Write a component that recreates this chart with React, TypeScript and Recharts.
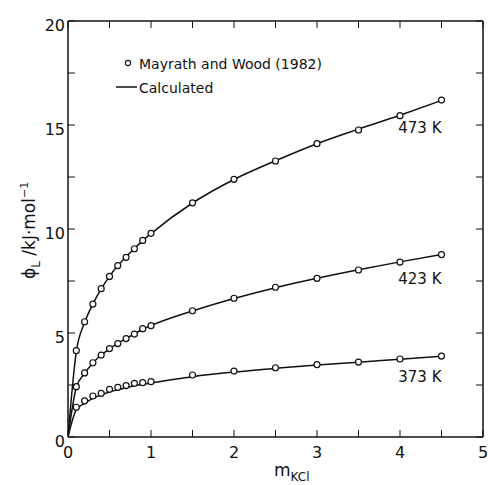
import React from 'react';
import {
  ComposedChart,
  Line,
  Scatter,
  XAxis,
  YAxis,
  Legend,
} from 'recharts';

// molality of KCl (mol/kg)
const molality = [0.1, 0.2, 0.3, 0.4, 0.5, 0.6, 0.7, 0.8, 0.9, 1.0, 1.5, 2.0, 2.5, 3.0, 3.5, 4.0, 4.5];

// Mayrath and Wood (1982), phi_L in kJ/mol
const measured473 = [4.15, 5.54, 6.39, 7.13, 7.72, 8.24, 8.64, 9.05, 9.45, 9.79, 11.26, 12.39, 13.27, 14.1, 14.76, 15.45, 16.2];
const measured423 = [2.42, 3.08, 3.57, 3.94, 4.25, 4.49, 4.73, 4.95, 5.21, 5.35, 6.07, 6.67, 7.2, 7.63, 8.03, 8.41, 8.77];
const measured373 = [1.43, 1.74, 1.97, 2.1, 2.29, 2.39, 2.47, 2.58, 2.61, 2.66, 2.98, 3.17, 3.33, 3.48, 3.6, 3.75, 3.89];

// calculated curves, starting at the origin
const calcM = [0, ...molality];
const calc473 = [0, 4.1, 5.5, 6.4, 7.12, 7.72, 8.24, 8.66, 9.06, 9.44, 9.78, 11.25, 12.38, 13.28, 14.1, 14.8, 15.47, 16.18];
const calc423 = [0, 2.38, 3.06, 3.56, 3.94, 4.24, 4.5, 4.73, 4.96, 5.18, 5.36, 6.06, 6.66, 7.18, 7.63, 8.04, 8.42, 8.77];
const calc373 = [0, 1.3, 1.62, 1.86, 2.02, 2.16, 2.27, 2.37, 2.46, 2.53, 2.6, 2.9, 3.12, 3.3, 3.46, 3.59, 3.74, 3.88];

const tempLabels = ['473 K', '423 K', '373 K'];

const xTicks = [0, 0.5, 1, 1.5, 2, 2.5, 3, 3.5, 4, 4.5, 5];
const yTicks = [0, 2.5, 5, 7.5, 10, 12.5, 15, 17.5, 20];

const FONT = '"DejaVu Sans", sans-serif';
const INK = '#111';

// layout
const W = 488;
const H = 485;
const MARGIN = { top: 21, right: 5, bottom: 0, left: 0 };
const Y_AXIS_W = 68;
const X_AXIS_H = 48;
const PLOT_W = W - MARGIN.left - MARGIN.right - Y_AXIS_W;
const PLOT_H = H - MARGIN.top - MARGIN.bottom - X_AXIS_H;
const TICK = 7;
const X_GAP = 10;
const Y_GAP = 3;

const toPoints = (xs: number[], ys: number[]) => xs.map((x, i) => ({ x, y: ys[i] }));

const series = [
  { measured: measured473, calc: calc473, label: tempLabels[0], labelDy: 33 },
  { measured: measured423, calc: calc423, label: tempLabels[1], labelDy: 29 },
  { measured: measured373, calc: calc373, label: tempLabels[2], labelDy: 26 },
];

const OpenCircle = (props: any) => (
  <circle cx={props.cx} cy={props.cy} r={3} fill="#fff" stroke={INK} strokeWidth={1.2} />
);

// labels only on whole numbers (x) and multiples of 5 (y)
const xFmt = (v: number) => (Number.isInteger(v) ? String(v) : '');
const yFmt = (v: number) => (v % 5 === 0 ? String(v) : '');

// tick mark pointing into the plot at both the bottom and the top edge
const XTick = (props: any) => {
  const { x, y, payload } = props;
  const base = y - X_GAP;
  return (
    <g>
      <line x1={x} x2={x} y1={base} y2={base - TICK} stroke={INK} strokeWidth={1} />
      <line x1={x} x2={x} y1={base - PLOT_H} y2={base - PLOT_H + TICK} stroke={INK} strokeWidth={1} />
      <text x={x} y={y} dy="0.71em" textAnchor="middle" fontSize={16} fontFamily={FONT} fill={INK}>
        {xFmt(payload.value)}
      </text>
    </g>
  );
};

// same on the left and right edges
const YTick = (props: any) => {
  const { x, y, payload } = props;
  const base = x + Y_GAP;
  return (
    <g>
      <line x1={base} x2={base + TICK} y1={y} y2={y} stroke={INK} strokeWidth={1} />
      <line x1={base + PLOT_W} x2={base + PLOT_W - TICK} y1={y} y2={y} stroke={INK} strokeWidth={1} />
      <text x={x} y={y + 4} dy="0.355em" textAnchor="end" fontSize={16} fontFamily={FONT} fill={INK}>
        {yFmt(payload.value)}
      </text>
    </g>
  );
};

const LegendBox = () => (
  <svg width={230} height={50} style={{ display: 'block' }}>
    <circle cx={18} cy={13} r={2.6} fill="#fff" stroke={INK} strokeWidth={1.1} />
    <text x={29} y={19} fontSize={14} fontFamily={FONT} fill={INK}>
      Mayrath and Wood (1982)
    </text>
    <line x1={6} x2={27} y1={37} y2={37} stroke={INK} strokeWidth={1.5} />
    <text x={29} y={42.5} fontSize={14} fontFamily={FONT} fill={INK}>
      Calculated
    </text>
  </svg>
);

const XTitle = () => (
  <text x={274} y={476} fontFamily={FONT} fill={INK} fontSize={17}>
    <tspan>m</tspan>
    <tspan fontSize={12} dy={5}>KCl</tspan>
  </text>
);

const YTitle = () => (
  <text transform="translate(35,279) rotate(-90)" fontFamily={FONT} fill={INK} fontSize={17}>
    <tspan>ϕ</tspan>
    <tspan fontSize={12} dy={5}>L</tspan>
    <tspan dy={-5}> /kJ·mol</tspan>
    <tspan fontSize={11} dy={-7}>−1</tspan>
  </text>
);

export default function App() {
  const axisLine = { stroke: INK, strokeWidth: 1.5 };
  return (
    <div style={{ position: 'absolute', left: 0, top: 0, background: '#fff' }}>
      <ComposedChart width={W} height={H} margin={MARGIN}>
        <XAxis
          xAxisId="b"
          dataKey="x"
          type="number"
          domain={[0, 5]}
          allowDataOverflow
          ticks={xTicks}
          interval={0}
          tickLine={false}
          tickSize={0}
          tickMargin={X_GAP}
          height={X_AXIS_H}
          tick={XTick}
          axisLine={axisLine}
          label={{ content: XTitle }}
        />
        <XAxis
          xAxisId="t"
          orientation="top"
          dataKey="x"
          type="number"
          domain={[0, 5]}
          allowDataOverflow
          mirror
          tick={false}
          tickLine={false}
          axisLine={axisLine}
          height={10}
        />
        <YAxis
          yAxisId="l"
          type="number"
          domain={[0, 20]}
          allowDataOverflow
          ticks={yTicks}
          interval={0}
          width={Y_AXIS_W}
          tickLine={false}
          tickSize={0}
          tickMargin={Y_GAP}
          tick={YTick}
          axisLine={axisLine}
          label={{ content: YTitle }}
        />
        <YAxis
          yAxisId="r"
          orientation="right"
          type="number"
          domain={[0, 20]}
          allowDataOverflow
          mirror
          tick={false}
          tickLine={false}
          axisLine={axisLine}
          width={10}
        />
        <Legend
          layout="vertical"
          align="center"
          verticalAlign="middle"
          content={LegendBox}
          wrapperStyle={{ left: 110, top: 50, width: 230, height: 50 }}
        />
        {series.map((s) => (
          <Line
            key={'c' + s.label}
            xAxisId="b"
            yAxisId="l"
            data={toPoints(calcM, s.calc)}
            dataKey="y"
            type="monotone"
            stroke={INK}
            strokeWidth={1.5}
            dot={false}
            activeDot={false}
            legendType="none"
            isAnimationActive={false}
            label={(p: any) =>
              p.index === s.calc.length - 1 ? (
                <text
                  key="lbl"
                  x={p.x}
                  y={p.y + s.labelDy}
                  textAnchor="end"
                  fontSize={15}
                  fontFamily={FONT}
                  fill={INK}
                >
                  {s.label}
                </text>
              ) : (
                <g key={'n' + p.index} />
              )
            }
          />
        ))}
        {series.map((s) => (
          <Scatter
            key={'m' + s.label}
            xAxisId="b"
            yAxisId="l"
            data={toPoints(molality, s.measured)}
            dataKey="y"
            shape={OpenCircle}
            legendType="none"
            isAnimationActive={false}
          />
        ))}
      </ComposedChart>
    </div>
  );
}
